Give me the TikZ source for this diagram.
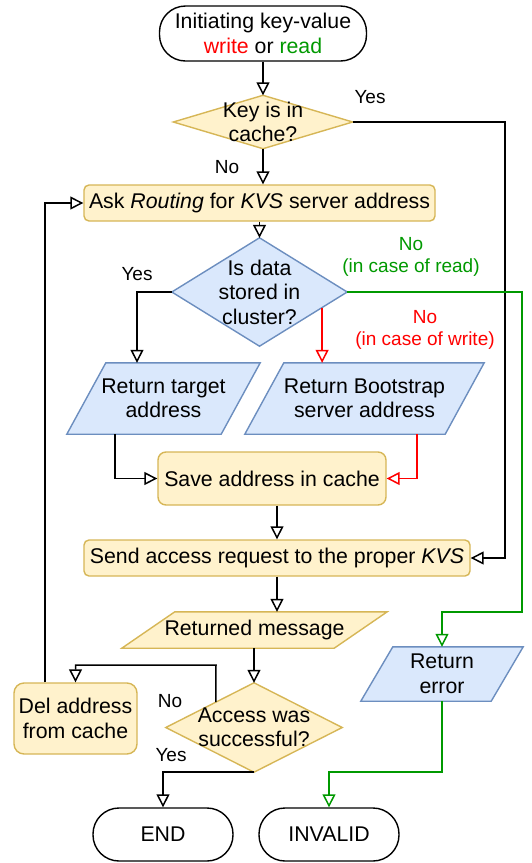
\documentclass[tikz,border=0pt]{standalone}
\usepackage{fontspec}
\setmainfont{Liberation Sans}
\usetikzlibrary{arrows.meta,calc,backgrounds}

\definecolor{yfill}{HTML}{FFF2CC}
\definecolor{yline}{HTML}{D6B656}
\definecolor{bfill}{HTML}{DAE8FC}
\definecolor{bline}{HTML}{6C8EBF}
\definecolor{nored}{HTML}{FF0000}
\definecolor{nogreen}{HTML}{009900}

% outline of a decision diamond behind the named node #1
\newcommand{\decisionbox}[2]{%
  \begin{pgfonlayer}{background}
    \draw[#2] (#1.north) -- (#1.east) -- (#1.south) -- (#1.west) -- cycle;
  \end{pgfonlayer}}
% outline of a data parallelogram behind node #1, slanted by #2
\newcommand{\slantbox}[3]{%
  \begin{pgfonlayer}{background}
    \draw[#3] ([xshift=#2]#1.north west) -- (#1.north east)
      -- ([xshift=-#2]#1.south east) -- (#1.south west) -- cycle;
  \end{pgfonlayer}}

\begin{document}
\begin{tikzpicture}[x=1pt,y=-1pt,
  every node/.style={font=\fontsize{21.3}{24.5}\selectfont, inner sep=0pt, align=center},
  terminal/.style={draw, line width=1.4pt, rounded corners=26pt},
  yproc/.style={draw=yline, fill=yfill, line width=1.4pt},
  ylook/.style={draw=yline, fill=yfill, line width=1.4pt},
  blook/.style={draw=bline, fill=bfill, line width=1.4pt},
  lbl/.style={font=\fontsize{19}{22.5}\selectfont},
  flow/.style={line width=1.5pt, -{Triangle[open,length=13pt,width=13pt]}}]

\useasboundingbox (0,0) rectangle (531,863);

% ---- nodes ----
\node[terminal, minimum width=207pt, minimum height=55pt] (start) at (263,33.5)
  {Initiating key-value\\\textcolor{nored}{write} or \textcolor{nogreen}{read}};

\node[minimum width=179pt, minimum height=53pt] (d1) at (263,122) {Key is in\\cache?};
\decisionbox{d1}{ylook}

\node[yproc, rounded corners=5pt, minimum width=351pt, minimum height=36pt] (ask) at (259.5,203)
  {Ask \textit{Routing} for \textit{KVS} server address};

\node[minimum width=175pt, minimum height=108pt] (d2) at (259.5,292) {Is data\\stored in\\cluster?};
\decisionbox{d2}{blook}

\node[minimum width=193pt, minimum height=71pt] (rt) at (163.5,398.5) {Return target\\address};
\slantbox{rt}{39pt}{blook}

\node[minimum width=239pt, minimum height=71pt] (rb) at (364.5,398.5) {Return Bootstrap\\server address};
\slantbox{rb}{39pt}{blook}

\node[yproc, rounded corners=8pt, minimum width=228pt, minimum height=53pt] (save) at (272,478.5)
  {Save address in cache};

\node[yproc, rounded corners=5pt, minimum width=386pt, minimum height=36pt] (send) at (277,558)
  {Send access request to the proper \textit{KVS}};

\node[minimum width=265pt, minimum height=36pt] (rm) at (254.5,630) {Returned message};
\slantbox{rm}{53pt}{ylook}

\node[minimum width=176pt, minimum height=89pt] (d3) at (254,727.5) {Access was\\successful?};
\decisionbox{d3}{ylook}

\node[yproc, rounded corners=10pt, minimum width=123pt, minimum height=71pt] (del) at (75.5,718.5)
  {Del address\\from cache};

\node[minimum width=162pt, minimum height=54pt] (err) at (442,674) {Return\\error};
\slantbox{err}{32pt}{blook}

\node[terminal, minimum width=140pt, minimum height=53pt] (end) at (163,834.5) {END};
\node[terminal, minimum width=140pt, minimum height=53pt] (inv) at (329,834.5) {INVALID};

% ---- edge labels ----
\node[lbl] (lyes1) at (370,97) {Yes};
\node[lbl] (lno1) at (227,167) {No};
\node[lbl, text=nogreen] (lnoread) at (411,257) {No\\(in case of read)};
\node[lbl, text=nored] (lnowrite) at (425,330) {No\\(in case of write)};
\node[lbl] (lyes2) at (137,274) {Yes};
\node[lbl] (lno3) at (170,701) {No};
\node[lbl] (lyes3) at (171,755) {Yes};

% ---- connectors ----
\coordinate (rx) at (505,122);
\coordinate (gx) at (522,612);
\coordinate (rd) at ($(d2.east)!0.286!(d2.south)$);
\coordinate (nd) at ($(d3.west)!0.568!(d3.north)$);
\coordinate (nk) at (216,665);

\draw[flow] (start.south) -- (start.south |- d1.north);
\draw[flow] (d1.south) -- (d1.south |- ask.north);
\draw[flow] (d1.east) -- (rx) |- (send.east);
\draw[flow] (ask.south) -- (d2.north);
\draw[flow] (d2.west) -| ([xshift=-26.5pt]rt.north);
\draw[flow, nored] (rd) -- (rd |- rb.north);
\draw[flow, nogreen] (d2.east) -| (gx) -| (err.north);
\draw[flow] ([xshift=-48.5pt]rt.south) |- (save.west);
\draw[flow, nored] ([xshift=52.5pt]rb.south) |- (save.east);
\draw[flow] (send.north |- save.south) -- (send.north);
\draw[flow] (send.south) -- (send.south |- rm.north);
\draw[flow] (d3.north |- rm.south) -- (d3.north);
\draw[flow] (nd) -- (nk) -| (del.north);
\draw[flow] ([xshift=-30.5pt]del.north) |- (ask.west);
\draw[flow] (d3.south) -| (end.north);
\draw[flow, nogreen] (err.south) -- (err.south |- d3.south) -| (inv.north);

\end{tikzpicture}
\end{document}
